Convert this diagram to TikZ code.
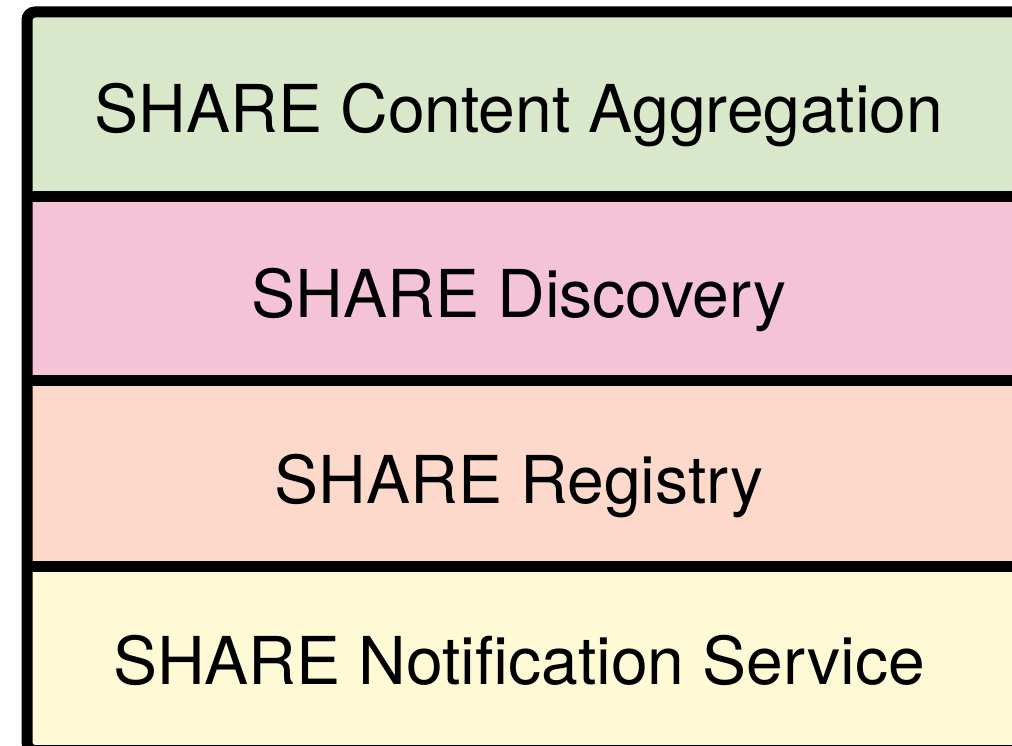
\documentclass[tikz,border=0pt]{standalone}
\usepackage{fontspec}
\setmainfont{TeX Gyre Heros}
\usetikzlibrary{positioning}
\definecolor{aggfill}{HTML}{D9E8CA}
\definecolor{discfill}{HTML}{F5C3D7}
\definecolor{regfill}{HTML}{FDD9CC}
\definecolor{notiffill}{HTML}{FEFAD5}
\tikzset{
  band/.style={fill=#1, minimum width=1003pt, inner sep=0pt, anchor=north west},
  layerlabel/.style={font=\fontsize{66}{80}\selectfont, anchor=base, inner sep=0pt},
  rule/.style={line width=11pt, draw=black}
}
\begin{document}
\begin{tikzpicture}[x=1pt, y=-1pt]
  \useasboundingbox (0,0) rectangle (1012,746);
  \clip (0,0) rectangle (1012,746);
  % Layer bands, top to bottom
  \node (agg)[band=aggfill, minimum height=184pt] at (27,12) {};
  \node (disc)[band=discfill, minimum height=184pt, below=0pt of agg.south west, anchor=north west] {};
  \node (reg)[band=regfill, minimum height=185pt, below=0pt of disc.south west, anchor=north west] {};
  \node (notif)[band=notiffill, minimum height=184pt, below=0pt of reg.south west, anchor=north west] {};

  % Dividers and outer frame
  \draw[rule] (disc.north west) -- (disc.north east);
  \draw[rule] (reg.north west) -- (reg.north east);
  \draw[rule] (notif.north west) -- (notif.north east);
  \draw[rule, rounded corners=8pt] (notif.south west) -- (agg.north west)
    -- (agg.north east) -- (notif.south east) -- cycle;

  % Labels
  \node (agglabel)[layerlabel] at (519,133) {SHARE Content Aggregation};
  \node (disclabel)[layerlabel] at (519,317) {SHARE Discovery};
  \node (reglabel)[layerlabel] at (519,503) {SHARE Registry};
  \node (notiflabel)[layerlabel] at (519,684) {SHARE Notification Service};
\end{tikzpicture}
\end{document}
